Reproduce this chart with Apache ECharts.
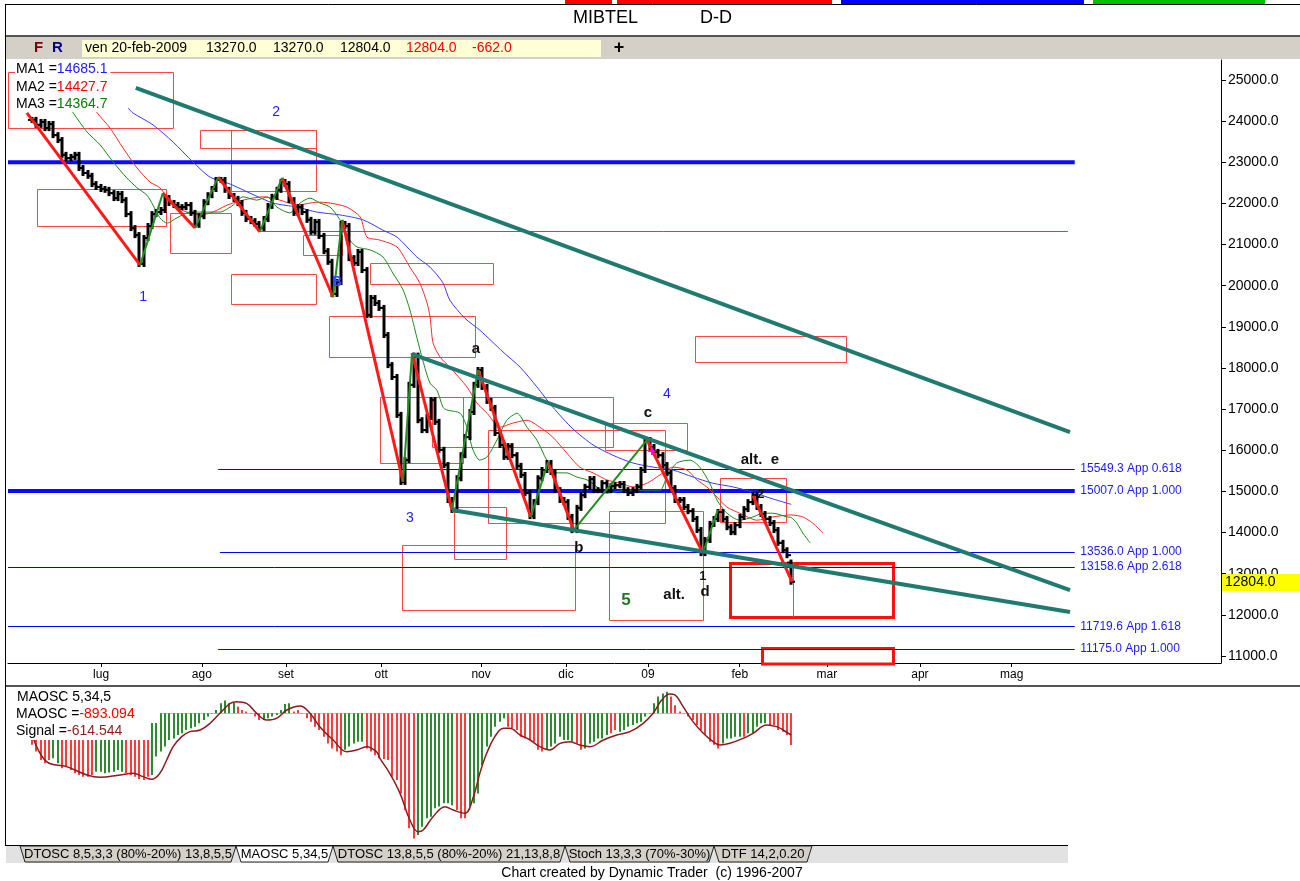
<!DOCTYPE html>
<html>
<head>
<meta charset="utf-8">
<title>MIBTEL D-D</title>
<script src="https://cdn.jsdelivr.net/npm/echarts@6.0.0/dist/echarts.min.js"></script>
<style>
  html, body { margin: 0; padding: 0; background: #fff; }
  #chart { width: 1300px; height: 881px; }
</style>
</head>
<body>
<div id="chart"></div>
<script>
// daily closes, bar 0 = first bar on screen (late jun 2008) .. bar 177 = 20-feb-2009
const closes = [
  24030,23910,23980,23830,23930,23660,23540,23180,23100,23130,
  23180,22860,22740,22670,22470,22400,22350,22330,22250,22130,
  22230,22080,21740,21400,21230,20530,21160,21450,21740,21790,
  21840,22130,22010,21960,21910,21910,21960,21770,21480,21690,
  22030,22200,22350,22570,22570,22330,22180,22110,22010,21770,
  21620,21570,21500,21400,21620,21940,22160,22330,22520,22470,
  22080,21770,21910,21790,21600,21310,21550,21210,20840,20580,
  19800,20090,21500,21450,20670,20550,20820,20380,19290,19700,
  19580,19460,18800,18070,17780,16860,15230,15760,17590,18300,
  16730,16490,16810,17220,16690,16010,15640,14790,14550,15320,
  15880,16320,16930,17590,17950,17540,17200,17030,16420,16130,
  15840,16100,15880,15620,15400,14960,14400,14740,15320,15520,
  15690,15470,15030,14790,14740,14380,14060,14600,14910,15110,
  15300,15030,15030,15200,15030,15130,15150,15180,15030,14960,
  15030,15110,15520,16250,16080,15960,15880,15640,15450,15080,
  14790,14790,14620,14520,14330,14060,13500,13820,14210,14330,
  14500,14330,14130,14010,14180,14380,14570,14740,14910,14620,
  14450,14330,14230,14060,13750,13570,13450,12804
];
const lastBar = { date: 'ven 20-feb-2009', open: 13270, high: 13270, low: 12804, close: 12804, change: -662 };

// moving averages: [bar, value]
const ma1 = [[22.4,24320],[23.5,24200],[28.2,23910],[32.9,23490],[37.5,23010],[41.5,22640],[46.2,22470],[50.8,22250],[56.2,22010],[61.8,21910],[66.4,21790],[71.8,21720],[77.2,21600],[81.8,21350],[85.1,21180],[89.7,20700],[92.8,20450],[95.8,20070],[97.4,19650],[100.9,19210],[104.4,18920],[109.8,18390],[113.8,18020],[117.7,17540],[121.4,17050],[126.1,16520],[130.8,16130],[135.4,15880],[140.1,15690],[144.8,15590],[149.4,15520],[154.1,15350],[158.7,15200],[163.4,15110],[168.1,14980],[172,14840],[177,14685.1]];
const ma2 = [[14.2,24390],[15.2,24200],[18.2,23830],[21.2,23350],[24.5,22860],[27.5,22520],[29.8,22380],[32.9,21960],[36.1,21790],[39.2,21720],[42.2,21790],[45.5,21960],[49.2,22080],[53.8,22160],[57.8,22080],[61.8,21960],[66.4,22030],[69.5,22010],[73.4,21910],[76.5,21670],[78.1,21180],[81.1,21110],[85.1,20940],[88.1,20450],[90.4,20070],[92.1,19580],[92.8,19240],[93.5,18610],[95.1,18270],[97.4,18020],[101.4,17540],[103.7,17150],[106.1,16900],[109.1,16560],[112.1,16660],[115.4,16730],[118.4,16560],[121.4,16320],[124.7,15930],[127.7,15590],[130.8,15450],[134,15280],[137.1,15200],[140.1,15110],[143.4,15200],[146.4,15400],[149.4,15590],[152.7,15520],[155,15280],[157.3,15110],[159.7,14860],[162,14620],[165,14470],[169,14300],[172.7,14380],[177,14427.7],[179.7,14380],[182,14230],[184.4,13990]];
const ma3 = [[8.4,24390],[9.6,24200],[12.8,23740],[15.9,23420],[18.9,23010],[22.1,22620],[24.5,22380],[26.8,22200],[28.2,21960],[29.8,21650],[31.5,21520],[33.8,21650],[36.8,21790],[40.8,21790],[43.8,21790],[46.9,21960],[49.2,22160],[52.4,22080],[54.8,22160],[57.1,21910],[60.1,21770],[62.5,22010],[64.8,22130],[67.1,22010],[69.5,21910],[71.8,21600],[74.1,21110],[75.8,20940],[78.8,20870],[81.8,20700],[84.1,20310],[86.5,19900],[88.1,19410],[89.7,18750],[91.1,18190],[92.8,17630],[94.4,17460],[95.8,17050],[96.7,16980],[99.8,16900],[101.4,16560],[102.8,16010],[104.4,15760],[106.1,15840],[108.4,16250],[110.7,16730],[113.1,16900],[115.4,16560],[117.7,16250],[120,15760],[122.4,15450],[124.7,15450],[127,15350],[129.4,15280],[131.7,15110],[134,14960],[138.7,15030],[141.7,15030],[146.4,15030],[148,15350],[150.3,15690],[153.4,15760],[155.7,15590],[158,15200],[159.7,14790],[162,14470],[165,14300],[168.1,14380],[170.4,14470],[172.7,14470],[176,14380],[177,14364.7],[178.3,14230],[179.7,13990],[181.4,13750]];

// MAOSC 5,34,5 histogram, one value per bar, and its colour runs
const maosc = [
  -890,-1080,-1320,-1410,-1320,-1270,-1410,-1550,-1520,-1600,
  -1690,-1740,-1790,-1790,-1740,-1650,-1650,-1690,-1670,-1650,
  -1600,-1650,-1690,-1740,-1790,-1850,-1880,-1790,-1740,-1220,
  -1080,-940,-750,-710,-610,-560,-470,-420,-380,-280,
  -190,-90,-10,90,280,360,280,300,190,90,
  50,-10,-90,-190,-190,-140,-90,-50,90,260,
  280,50,90,-10,-140,-240,-380,-470,-660,-850,
  -990,-1080,-1180,-1030,-940,-850,-800,-800,-990,-1080,
  -1180,-1270,-1290,-1320,-1790,-1880,-2260,-2730,-3240,-3530,
  -3430,-3200,-2960,-2920,-2680,-2630,-2540,-2540,-2590,-2730,
  -2960,-2960,-2630,-2540,-2260,-1460,-940,-660,-380,-240,
  -140,-380,-420,-470,-660,-710,-750,-800,-1030,-1080,
  -1030,-940,-850,-660,-750,-750,-800,-850,-1030,-990,
  -850,-800,-710,-710,-610,-560,-470,-520,-470,-380,
  -330,-280,-240,-90,-10,280,470,560,610,470,
  230,50,-10,-90,-190,-330,-470,-610,-800,-890,
  -990,-850,-710,-710,-660,-660,-660,-560,-560,-380,
  -280,-280,-330,-330,-470,-520,-610,-893.094
];
const oscColorRuns = [['r',5],['g',2],['r',8],['g',7],['r',6],['g',20],['r',6],['g',7],['r',12],['g',5],['r',12],['g',9],['r',3],['g',9],['r',9],['g',7],['r',2],['g',6],['r',2],['g',12],['r',12],['g',5],['r',1],['g',5],['r',6]];
const signal = [[0.3,-706],[3.4,-1364],[8.1,-1505],[12.8,-1740],[15.9,-1806],[20.5,-1740],[23.6,-1693],[25.9,-1787],[27.9,-1862],[29.8,-1693],[31.4,-1317],[32.9,-941],[34.9,-659],[36.8,-518],[39.2,-471],[41.5,-283],[43.8,-1],[46.2,281],[47.7,328],[50,281],[52.4,-1],[54.7,-189],[57,-142],[59.4,93],[62.5,206],[64.8,-1],[67.1,-377],[70.2,-753],[73.4,-1082],[75.7,-1035],[78,-941],[80.3,-1082],[81.1,-1270],[83.4,-1693],[85.8,-2257],[88.1,-3009],[90,-3338],[91.2,-3291],[93.5,-2915],[96.3,-2633],[98.2,-2727],[100.9,-2821],[102.9,-2351],[104.4,-1693],[106,-1129],[107.9,-659],[109.9,-424],[111.4,-424],[113.8,-612],[116.1,-753],[118.4,-941],[120.7,-1035],[123.1,-847],[125.4,-800],[127.7,-894],[130.1,-941],[133.2,-753],[136.3,-612],[139.4,-518],[142.5,-283],[144.8,-1],[146.8,375],[148.7,544],[149.9,516],[151.8,187],[154.1,-236],[156.5,-565],[158.8,-800],[160.4,-894],[162.7,-847],[165.8,-706],[168.1,-565],[171.3,-330],[173.6,-377],[175.1,-471],[177,-614.544]];

// axis labels
const monthLabels = ['lug','ago','set','ott','nov','dic','09','feb','mar','apr','mag'];
const monthPos = [16.1, 39.6, 59.2, 81.4, 104.7, 124.5, 143.6, 165.0, 185.3, 207.0, 228.4];
const priceTicks = [11000,12000,13000,14000,15000,16000,17000,18000,19000,20000,21000,22000,23000,24000,25000];

// drawings: [bar1, price1, bar2, price2]
const thickLevels = [[-5.6,23000,243.1,23000],[-5.6,15007,243.1,15007]];
const thinLevels = [[43.4,15549.3,243.1,15549.3],[43.8,13536,243.1,13536],[-5.6,13158.6,243.1,13158.6],[-5.6,11719.6,243.1,11719.6],[43.4,11175,243.1,11175]];
const levelValues = [15549.3, 15007.0, 13536.0, 13158.6, 11719.6, 11175.0];
const levelNames = ['App 0.618','App 1.000','App 1.000','App 2.618','App 1.618','App 1.000'];
const tealLevel = [[53.1,21320,241.5,21320]];
const trendLines = [[24.2,24806,242,16443],[88.6,18339,242,12602],[97.9,14547,242,12067]];
const redSwings = [[-1.2,24200,25.2,20500],[30.5,22250,38,21400],[43.4,22640,53.1,21310],[58.3,22620,70.2,19720],[72.3,21600,86.5,15230],[88.6,18360,97.9,14550],[104,17950,116.3,14380],[120.3,15710,126.3,14060],[143.4,16250,156.4,13500],[168.1,14890,177.2,12800]];
const greenSwings = [[25.2,20500,30.5,22250],[38,21400,43.4,22640],[53.1,21310,58.3,22620],[70.2,19720,72.3,21600],[86.5,15230,88.6,18360],[97.9,14550,104,17950],[116.3,14380,120.3,15710],[126.3,14060,143.4,16250],[156.4,13500,159.9,14550]];
const boxes = [[-5.6,25195,32.9,23833],[39.2,23785,66.2,23347],[46.4,23785,66.2,22302],[1.2,22350,31.2,21451],[32.2,21767,46.4,20795],[46.4,20284,66.2,19555],[63.2,21232,72.3,20746],[78.8,20551,107.5,20041],[69.2,19263,103.3,18266],[81.1,17294,100.5,15690],[93.2,17294,135.4,16079],[106.3,16492,147.6,14231],[133.6,16662,152.7,16006],[98.4,14620,110.5,13356],[86.2,13696,126.6,12116],[134.5,14523,156.4,11873],[154.5,18777,189.7,18145],[160.4,15325,175.8,14255]];
const targetBoxes = [[162.7,13258,200.7,11946],[170.2,11192,200.7,10500]];
const targetMarks = [[177.4,13258,177.4,11946]];

// wave labels: [bar, price, text, kind]
const notes = [
  [25.9,19725,'1','wave'],[56.9,24222,'2','wave'],[88.1,14352,'3','wave'],[148,17367,'4','wave'],
  [71.1,20090,'B','waveSmall'],
  [103.5,18461,'a','letter'],[127.5,13623,'b','letter'],[143.6,16905,'c','letter'],
  [169.7,15762,'alt.  e','letter'],[149.7,12480,'alt.','letter'],[156.9,12553,'d','letter'],
  [156.4,12942,'1','minor'],[169.9,14936,'2','minor'],
  [138.5,12360,'5','five'],[144.5,15957,'+','plus']
];

const FONT = '"Liberation Sans", Arial, sans-serif';
const noteStyle = {
  wave: { font: '14px ' + FONT, fill: '#2222ff' },
  waveSmall: { font: 'bold 14px ' + FONT, fill: '#3344ff' },
  letter: { font: 'bold 15px ' + FONT, fill: '#111' },
  minor: { font: 'bold 13px ' + FONT, fill: '#111' },
  five: { font: 'bold 17px ' + FONT, fill: '#1e7a1e' },
  plus: { font: 'bold 15px ' + FONT, fill: '#ff00ff' }
};

function crisp(v, w) { return w % 2 === 1 ? Math.round(v) + 0.5 : v; }

function segments(data, color, width, axis, z) {
  return {
    type: 'custom', xAxisIndex: axis, yAxisIndex: axis, silent: true, clip: true, z: z,
    data: data, encode: { x: [0, 2], y: [1, 3] },
    renderItem: function (params, api) {
      const a = api.coord([api.value(0), api.value(1)]);
      const b = api.coord([api.value(2), api.value(3)]);
      let x1 = a[0], y1 = a[1], x2 = b[0], y2 = b[1];
      if (y1 === y2) { y1 = y2 = crisp(y1, width); }
      if (x1 === x2) { x1 = x2 = crisp(x1, width); }
      return { type: 'line', shape: { x1: x1, y1: y1, x2: x2, y2: y2 }, style: { stroke: color, lineWidth: width } };
    }
  };
}

function rects(data, color, width, z) {
  return {
    type: 'custom', xAxisIndex: 0, yAxisIndex: 0, silent: true, z: z,
    data: data, encode: { x: [0, 2], y: [1, 3] },
    renderItem: function (params, api) {
      const a = api.coord([api.value(0), api.value(1)]);
      const b = api.coord([api.value(2), api.value(3)]);
      const cs = params.coordSys;
      const shape = echarts.graphic.clipRectByRect(
        { x: crisp(a[0], width), y: crisp(a[1], width), width: Math.round(b[0] - a[0]), height: Math.round(b[1] - a[1]) },
        { x: cs.x, y: cs.y, width: cs.width, height: cs.height + 1 });
      if (!shape) return;
      return { type: 'rect', shape: shape, style: { fill: 'rgba(0,0,0,0)', stroke: color, lineWidth: width } };
    }
  };
}

// bars: open is the previous close, the last one comes from the header
const bars = closes.map(function (c, i) {
  const open = i === closes.length - 1 ? lastBar.open : (i ? closes[i - 1] : c);
  return [i, open, c];
});

const oscColors = [];
oscColorRuns.forEach(function (r) { for (let k = 0; k < r[1]; k++) oscColors.push(r[0]); });
const oscData = maosc.map(function (v, i) { return [i, v]; });

const chart = echarts.init(document.getElementById('chart'));

const option = {
  animation: false,
  backgroundColor: '#fff',
  grid: [
    { left: 8, right: 79, top: 60, height: 603, outerBoundsMode: 'none' },
    { left: 8, right: 79, top: 688, height: 157, outerBoundsMode: 'none' }
  ],
  xAxis: [
    {
      type: 'value', gridIndex: 0, min: -5.6, max: 277.2,
      axisLine: { show: true, onZero: false, lineStyle: { color: '#000', width: 1 } },
      axisTick: { show: true, customValues: monthPos, length: 4, lineStyle: { color: '#000' } },
      axisLabel: {
        customValues: monthPos, color: '#000', fontFamily: FONT, fontSize: 12, margin: 6,
        formatter: function (v) {
          let best = 0;
          monthPos.forEach(function (p, k) { if (Math.abs(p - v) < Math.abs(monthPos[best] - v)) best = k; });
          return monthLabels[best];
        }
      },
      splitLine: { show: false }
    },
    { type: 'value', gridIndex: 1, min: -5.6, max: 277.2, show: false }
  ],
  yAxis: [
    {
      type: 'value', gridIndex: 0, position: 'right', min: 10829, max: 25486,
      axisLine: { show: true, onZero: false, lineStyle: { color: '#000', width: 1 } },
      axisTick: { show: true, customValues: priceTicks, length: 5, lineStyle: { color: '#000' } },
      axisLabel: {
        customValues: priceTicks, color: '#000', fontFamily: FONT, fontSize: 14, margin: 7,
        formatter: function (v) { return v.toFixed(1); }
      },
      splitLine: { show: false }
    },
    { type: 'value', gridIndex: 1, min: -3714, max: 713, show: false }
  ],
  series: [
    rects(boxes, '#ff4545', 1, 2),
    rects(targetBoxes, '#ff1010', 3, 2),
    segments(targetMarks, '#ff4545', 1, 0, 2),
    segments(thinLevels, '#0000ff', 1, 0, 2),
    segments(thickLevels, '#0a0aff', 4, 0, 2),
    segments(tealLevel, '#2a8a80', 1, 0, 2),
    { type: 'line', data: ma1, showSymbol: false, smooth: 0.25, silent: true, z: 3, lineStyle: { color: '#3a3aff', width: 1 } },
    { type: 'line', data: ma2, showSymbol: false, smooth: 0.25, silent: true, z: 3, lineStyle: { color: '#ff2a2a', width: 1 } },
    { type: 'line', data: ma3, showSymbol: false, smooth: 0.25, silent: true, z: 3, lineStyle: { color: '#1a8a1a', width: 1 } },
    {
      type: 'custom', xAxisIndex: 0, yAxisIndex: 0, silent: true, z: 4,
      data: bars, encode: { x: 0, y: [1, 2] },
      renderItem: function (params, api) {
        const x = Math.round(api.coord([api.value(0), 0])[0]);
        const yo = api.coord([0, api.value(1)])[1];
        const yc = api.coord([0, api.value(2)])[1];
        const top = Math.min(yo, yc) - 3, bot = Math.max(yo, yc) + 3;
        return {
          type: 'group', children: [
            { type: 'line', shape: { x1: x, y1: top, x2: x, y2: bot }, style: { stroke: '#000', lineWidth: 3 } },
            { type: 'line', shape: { x1: x - 4, y1: yo, x2: x, y2: yo }, style: { stroke: '#000', lineWidth: 2 } },
            { type: 'line', shape: { x1: x, y1: yc, x2: x + 4, y2: yc }, style: { stroke: '#000', lineWidth: 2 } }
          ]
        };
      }
    },
    segments(redSwings, '#ff1a1a', 3, 0, 5),
    segments(greenSwings, '#1f8f1f', 2, 0, 5),
    segments(trendLines, '#217a70', 4, 0, 6),
    {
      type: 'custom', xAxisIndex: 0, yAxisIndex: 0, silent: true, z: 7,
      data: notes.map(function (n) { return [n[0], n[1]]; }),
      renderItem: function (params, api) {
        const n = notes[params.dataIndex];
        const p = api.coord([api.value(0), api.value(1)]);
        const s = noteStyle[n[3]];
        return { type: 'text', x: p[0], y: p[1], style: { text: n[2], font: s.font, fill: s.fill, align: 'center', verticalAlign: 'middle' } };
      }
    },
    {
      type: 'custom', xAxisIndex: 0, yAxisIndex: 0, silent: true, z: 7,
      data: levelValues.map(function (v) { return [244.4, v]; }),
      renderItem: function (params, api) {
        const p = api.coord([api.value(0), api.value(1)]);
        const v = levelValues[params.dataIndex];
        return { type: 'text', x: p[0], y: p[1], style: { text: v.toFixed(1) + ' ' + levelNames[params.dataIndex], font: '12px ' + FONT, fill: '#1a1aff', align: 'left', verticalAlign: 'middle' } };
      }
    },
    segments([[0, 0, 177, 0]], '#c4c4c4', 1, 1, 2),
    {
      type: 'custom', xAxisIndex: 1, yAxisIndex: 1, silent: true, z: 3,
      data: oscData, encode: { x: 0, y: 1 },
      renderItem: function (params, api) {
        const x = Math.round(api.coord([api.value(0), 0])[0]);
        const y0 = api.coord([0, 0])[1];
        const y1 = api.coord([0, api.value(1)])[1];
        return { type: 'rect', shape: { x: x - 1, y: Math.min(y0, y1), width: 2, height: Math.abs(y1 - y0) }, style: { fill: oscColors[params.dataIndex] === 'g' ? '#2e8a2e' : '#ff3a3a' } };
      }
    },
    { type: 'line', xAxisIndex: 1, yAxisIndex: 1, data: signal, showSymbol: false, smooth: 0.4, silent: true, z: 4, lineStyle: { color: '#8b1c1c', width: 1.5 } }
  ],
  graphic: { elements: [] }
};

const g = option.graphic.elements;
function txt(x, y, text, font, fill, align, extra) {
  const s = { text: text, font: font, fill: fill || '#000', align: align || 'left', verticalAlign: 'middle' };
  Object.assign(s, extra || {});
  g.push({ type: 'text', x: x, y: y, z: 100, style: s });
}
// window strips and header
[[565,47,'#ff0000'],[617,215,'#ff0000'],[841,243,'#0000ff'],[1093,172,'#00c000']].forEach(function (r) {
  g.push({ type: 'rect', shape: { x: r[0], y: 0, width: r[1], height: 4 }, style: { fill: r[2] } });
});
g.push({ type: 'line', shape: { x1: 5, y1: 4.5, x2: 1300, y2: 4.5 }, style: { stroke: '#000', lineWidth: 1 } });
g.push({ type: 'line', shape: { x1: 5.5, y1: 4, x2: 5.5, y2: 846 }, style: { stroke: '#000', lineWidth: 1 }, z: 100 });
txt(573, 18, 'MIBTEL', '18px ' + FONT);
txt(700, 18, 'D-D', '18px ' + FONT);
g.push({ type: 'rect', shape: { x: 6, y: 35, width: 1294, height: 2 }, style: { fill: '#555' } });
g.push({ type: 'rect', shape: { x: 6, y: 37, width: 1294, height: 22 }, style: { fill: '#d4d0c8' } });
g.push({ type: 'rect', shape: { x: 82, y: 40, width: 519, height: 17 }, style: { fill: '#ffffd6' } });
txt(34, 48, 'F', 'bold 15px ' + FONT, '#7a0000');
txt(52, 48, 'R', 'bold 15px ' + FONT, '#000080');
txt(85, 48, lastBar.date, '14px ' + FONT);
txt(206, 48, lastBar.open.toFixed(1), '14px ' + FONT);
txt(273, 48, lastBar.high.toFixed(1), '14px ' + FONT);
txt(340, 48, lastBar.low.toFixed(1), '14px ' + FONT);
txt(406, 48, lastBar.close.toFixed(1), '14px ' + FONT, '#ff0000');
txt(472, 48, lastBar.change.toFixed(1), '14px ' + FONT, '#ff0000');
txt(619, 48, '+', 'bold 18px ' + FONT, '#000', 'center');

// price legend
function legend(x, y, key, val, color) {
  g.push({
    type: 'text', x: x, y: y, z: 100,
    style: {
      text: '{k|' + key + '}{v|' + val + '}', verticalAlign: 'middle', backgroundColor: '#fff', padding: [1, 3, 1, 1],
      rich: { k: { font: '14px ' + FONT, fill: '#000' }, v: { font: '14px ' + FONT, fill: color } }
    }
  });
}
legend(15, 69, 'MA1 =', ma1[ma1.length - 1][1].toFixed(1), '#2020ff');
legend(15, 87, 'MA2 =', ma2.find(function (d) { return d[0] === 177; })[1].toFixed(1), '#ff0000');
legend(15, 104, 'MA3 =', ma3.find(function (d) { return d[0] === 177; })[1].toFixed(1), '#008000');

// separators
g.push({ type: 'rect', shape: { x: 6, y: 685, width: 1294, height: 2 }, style: { fill: '#555' } });

// oscillator legend panel (hides the top of the first bars as in the original)
g.push({ type: 'rect', z: 99, shape: { x: 6, y: 688, width: 145, height: 52 }, style: { fill: '#fff' } });
g.push({ type: 'rect', z: 99, shape: { x: 6, y: 688, width: 154, height: 35 }, style: { fill: '#fff' } });
txt(17, 697, 'MAOSC 5,34,5', '14px ' + FONT);
legend(15, 714, 'MAOSC =', maosc[maosc.length - 1].toFixed(3), '#ff0000');
legend(15, 731, 'Signal =', signal[signal.length - 1][1].toFixed(3), '#8b1c1c');

// tab strip
g.push({ type: 'rect', shape: { x: 6, y: 846, width: 1062, height: 17 }, style: { fill: '#e2e2e2' } });
g.push({ type: 'line', shape: { x1: 6, y1: 845.5, x2: 1068, y2: 845.5 }, style: { stroke: '#000', lineWidth: 1 } });
[['DTOSC 8,5,3,3 (80%-20%) 13,8,5,5', 20, 236, false],
 ['MAOSC 5,34,5', 236, 333, true],
 ['DTOSC 13,8,5,5 (80%-20%) 21,13,8,8', 333, 565, false],
 ['Stoch 13,3,3 (70%-30%)', 565, 714, false],
 ['DTF 14,2,0.20', 714, 812, false]].forEach(function (t) {
  g.push({
    type: 'polygon', z: t[3] ? 11 : 10,
    shape: { points: [[t[1], 846], [t[2], 846], [t[2] - 5, 862], [t[1] + 5, 862]] },
    style: { fill: t[3] ? '#fff' : '#d4d0c8', stroke: '#222', lineWidth: 1 }
  });
  g.push({ type: 'text', x: (t[1] + t[2]) / 2, y: 854.5, z: 12, style: { text: t[0], font: '13px ' + FONT, fill: '#000', align: 'center', verticalAlign: 'middle' } });
});
txt(652, 873, 'Chart created by Dynamic Trader  (c) 1996-2007', '14px ' + FONT, '#000', 'center');

chart.setOption(option);

// last price flag on the price scale
const yPx = chart.convertToPixel({ yAxisIndex: 0 }, lastBar.close);
chart.setOption({
  graphic: {
    elements: [
      { id: 'pbox', type: 'rect', z: 100, shape: { x: 1222, y: Math.round(yPx) - 8, width: 78, height: 17 }, style: { fill: '#ffff00' } },
      { id: 'ptxt', type: 'text', z: 101, x: 1225, y: Math.round(yPx) + 0.5, style: { text: lastBar.close.toFixed(1), font: '14px ' + FONT, fill: '#000', verticalAlign: 'middle' } }
    ]
  }
});
</script>
</body>
</html>
